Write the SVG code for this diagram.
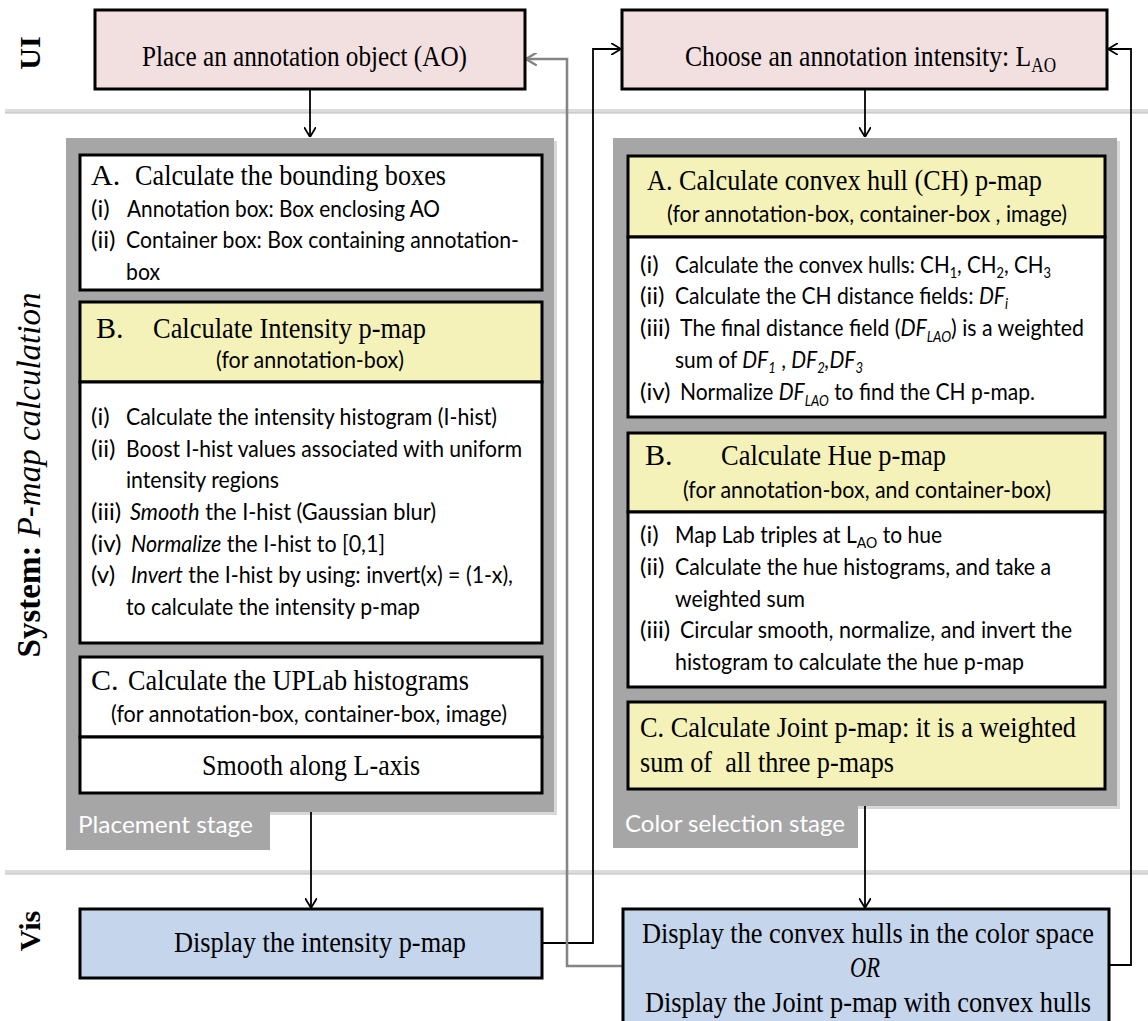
<svg xmlns="http://www.w3.org/2000/svg" width="1148" height="1021" viewBox="0 0 1148 1021">
  <style>
    .ser { font-family: "Liberation Serif", "Times New Roman", serif; font-size: 30px; fill: #000; }
    .san { font-family: Lato, "Open Sans", sans-serif; font-size: 24px; fill: #000; }
    .lbl { font-family: "Liberation Serif", "Times New Roman", serif; font-weight: bold; font-size: 30px; fill: #000; }
    .stage { font-family: Lato, "Open Sans", sans-serif; font-size: 24px; fill: #fff; }
    .it { font-style: italic; }
    .box { stroke: #000; stroke-width: 3; }
    .ui { fill: #f2dfe0; }
    .yel { fill: #f5f2b9; }
    .wht { fill: #ffffff; }
    .vis { fill: #c5d5eb; }
    .panel { fill: #a6a6a6; }
    .sep { fill: #dcdcdc; }
    .sepline { stroke: #bdbdbd; stroke-width: 1; }
    .conn { fill: none; stroke: #000; stroke-width: 1.8; }
    .conn-g { fill: none; stroke: #858585; stroke-width: 2.6; }
  </style>
  <defs>
    <marker id="arr" viewBox="0 0 10 12" refX="10" refY="6" markerWidth="10" markerHeight="12" markerUnits="userSpaceOnUse" orient="auto">
      <path d="M0,0 L10,6 L0,12" fill="none" stroke="#000" stroke-width="1.8"/>
    </marker>
    <marker id="arr-g" viewBox="0 0 10 12" refX="10" refY="6" markerWidth="11" markerHeight="13" markerUnits="userSpaceOnUse" orient="auto">
      <path d="M0,0 L10,6 L0,12" fill="none" stroke="#858585" stroke-width="2.2"/>
    </marker>
  </defs>

  <rect width="1148" height="1021" fill="#fff"/>

  <!-- lane separators and lane titles -->
  <g id="lanes">
    <rect class="sep" x="5" y="109" width="1143" height="4"/>
    <line class="sepline" x1="5" y1="113" x2="1148" y2="113"/>
    <rect class="sep" x="5" y="870" width="1143" height="4"/>
    <line class="sepline" x1="5" y1="874" x2="1148" y2="874"/>
    <text class="lbl" transform="translate(40,53) rotate(-90)" text-anchor="middle">UI</text>
    <text class="lbl" transform="translate(40,475) rotate(-90)" text-anchor="middle" style="font-size:33px">System: <tspan class="it" style="font-weight:normal">P-map calculation</tspan></text>
    <text class="lbl" transform="translate(40,931) rotate(-90)" text-anchor="middle">Vis</text>
  </g>

  <!-- stage panels -->
  <g id="placement-stage">
    <rect x="69" y="141" width="488" height="674" fill="#d8d8d8"/>
    <rect class="panel" x="66" y="138" width="488" height="674"/>
    <rect class="panel" x="66" y="812" width="204" height="38"/>
    <text class="stage" x="78" y="833" textLength="175" lengthAdjust="spacingAndGlyphs">Placement stage</text>
  </g>
  <g id="color-selection-stage">
    <rect x="616" y="141" width="504" height="668" fill="#d8d8d8"/>
    <rect class="panel" x="613" y="138" width="504" height="668"/>
    <rect class="panel" x="613" y="806" width="245" height="42"/>
    <text class="stage" x="625" y="832" textLength="220" lengthAdjust="spacingAndGlyphs">Color selection stage</text>
  </g>

  <!-- connectors -->
  <g id="connectors">
    <path class="conn" d="M310,89 V137" marker-end="url(#arr)"/>
    <path class="conn" d="M865,89 V137" marker-end="url(#arr)"/>
    <path class="conn" d="M311,812 V908" marker-end="url(#arr)"/>
    <path class="conn" d="M865,806 V908" marker-end="url(#arr)"/>
    <path class="conn" d="M542,943 H593 V49 H621" marker-end="url(#arr)"/>
    <path class="conn" d="M1109,965 H1131 V49 H1108" marker-end="url(#arr)"/>
    <path class="conn-g" d="M623,966 H567 V59 H526" marker-end="url(#arr-g)"/>
  </g>

  <!-- UI lane -->
  <g id="place-ao">
    <rect class="box ui" x="95" y="10" width="430" height="79"/>
    <text class="ser" x="142" y="66" textLength="325" lengthAdjust="spacingAndGlyphs">Place an annotation object (AO)</text>
  </g>
  <g id="choose-intensity">
    <rect class="box ui" x="622" y="10" width="485" height="79"/>
    <text class="ser" x="685" y="66" textLength="371" lengthAdjust="spacingAndGlyphs">Choose an annotation intensity: L<tspan dy="6" style="font-size:20px">AO</tspan></text>
  </g>

  <!-- placement stage steps -->
  <g id="bounding-boxes">
    <rect class="box wht" x="80" y="155" width="462" height="135"/>
    <text class="ser" x="91" y="185">A.</text>
    <text class="ser" x="135" y="185" textLength="311" lengthAdjust="spacingAndGlyphs">Calculate the bounding boxes</text>
    <text class="san" x="91" y="217">(i)</text>
    <text class="san" x="127" y="217" textLength="313" lengthAdjust="spacingAndGlyphs">Annotation box: Box enclosing AO</text>
    <text class="san" x="91" y="248">(ii)</text>
    <text class="san" x="126" y="248" textLength="393" lengthAdjust="spacingAndGlyphs">Container box: Box containing annotation-</text>
    <text class="san" x="126" y="280" textLength="34" lengthAdjust="spacingAndGlyphs">box</text>
  </g>
  <g id="intensity-pmap">
    <rect class="box yel" x="80" y="302" width="462" height="80"/>
    <rect class="box wht" x="80" y="382" width="462" height="261"/>
    <text class="ser" x="96" y="338">B.</text>
    <text class="ser" x="153" y="338" textLength="273" lengthAdjust="spacingAndGlyphs">Calculate Intensity p-map</text>
    <text class="san" x="216" y="368" textLength="188" lengthAdjust="spacingAndGlyphs">(for annotation-box)</text>
    <text class="san" x="91" y="425">(i)</text>
    <text class="san" x="126" y="425" textLength="371" lengthAdjust="spacingAndGlyphs">Calculate the intensity histogram (I-hist)</text>
    <text class="san" x="91" y="457">(ii)</text>
    <text class="san" x="126" y="457" textLength="396" lengthAdjust="spacingAndGlyphs">Boost I-hist values associated with uniform</text>
    <text class="san" x="126" y="488" textLength="153" lengthAdjust="spacingAndGlyphs">intensity regions</text>
    <text class="san" x="91" y="520">(iii)</text>
    <text class="san" x="130" y="520" textLength="306" lengthAdjust="spacingAndGlyphs"><tspan class="it">Smooth</tspan> the I-hist (Gaussian blur)</text>
    <text class="san" x="91" y="552">(iv)</text>
    <text class="san" x="131" y="552" textLength="254" lengthAdjust="spacingAndGlyphs"><tspan class="it">Normalize</tspan> the I-hist to [0,1]</text>
    <text class="san" x="91" y="583">(v)</text>
    <text class="san" x="131" y="583" textLength="382" lengthAdjust="spacingAndGlyphs"><tspan class="it">Invert</tspan> the I-hist by using: invert(x) = (1-x),</text>
    <text class="san" x="126" y="615" textLength="294" lengthAdjust="spacingAndGlyphs">to calculate the intensity p-map</text>
  </g>
  <g id="uplab-histograms">
    <rect class="box wht" x="80" y="657" width="462" height="80"/>
    <rect class="box wht" x="80" y="737" width="462" height="56"/>
    <text class="ser" x="91" y="690">C.</text>
    <text class="ser" x="128" y="690" textLength="341" lengthAdjust="spacingAndGlyphs">Calculate the UPLab histograms</text>
    <text class="san" x="111" y="722" textLength="396" lengthAdjust="spacingAndGlyphs">(for annotation-box, container-box, image)</text>
    <text class="ser" x="202" y="775" textLength="218" lengthAdjust="spacingAndGlyphs">Smooth along L-axis</text>
  </g>

  <!-- color selection stage steps -->
  <g id="convex-hull-pmap">
    <rect class="box yel" x="628" y="156" width="477" height="81"/>
    <rect class="box wht" x="628" y="237" width="477" height="180"/>
    <text class="ser" x="647" y="190" textLength="395" lengthAdjust="spacingAndGlyphs">A. Calculate convex hull (CH) p-map</text>
    <text class="san" x="667" y="222" textLength="400" lengthAdjust="spacingAndGlyphs">(for annotation-box, container-box , image)</text>
    <text class="san" x="640" y="273">(i)</text>
    <text class="san" x="675" y="273" textLength="376" lengthAdjust="spacingAndGlyphs">Calculate the convex hulls: CH<tspan dy="5" style="font-size:15px">1</tspan><tspan dy="-5">, CH</tspan><tspan dy="5" style="font-size:15px">2</tspan><tspan dy="-5">, CH</tspan><tspan dy="5" style="font-size:15px">3</tspan></text>
    <text class="san" x="640" y="304">(ii)</text>
    <text class="san" x="675" y="304" textLength="333" lengthAdjust="spacingAndGlyphs">Calculate the CH distance fields: <tspan class="it">DF</tspan><tspan class="it" dy="5" style="font-size:15px">i</tspan></text>
    <text class="san" x="640" y="336">(iii)</text>
    <text class="san" x="680" y="336" textLength="404" lengthAdjust="spacingAndGlyphs">The final distance field (<tspan class="it">DF</tspan><tspan class="it" dy="6" style="font-size:15px">LAO</tspan><tspan dy="-6">) is a weighted</tspan></text>
    <text class="san" x="675" y="368" textLength="188" lengthAdjust="spacingAndGlyphs">sum of <tspan class="it">DF</tspan><tspan class="it" dy="5" style="font-size:15px">1</tspan><tspan dy="-5"> , </tspan><tspan class="it">DF</tspan><tspan class="it" dy="5" style="font-size:15px">2</tspan><tspan class="it" dy="-5">,DF</tspan><tspan class="it" dy="5" style="font-size:15px">3</tspan></text>
    <text class="san" x="640" y="400">(iv)</text>
    <text class="san" x="680" y="400" textLength="355" lengthAdjust="spacingAndGlyphs">Normalize <tspan class="it">DF</tspan><tspan class="it" dy="6" style="font-size:15px">LAO</tspan><tspan dy="-6"> to find the CH p-map.</tspan></text>
  </g>
  <g id="hue-pmap">
    <rect class="box yel" x="628" y="433" width="477" height="79"/>
    <rect class="box wht" x="628" y="512" width="477" height="175"/>
    <text class="ser" x="645" y="465">B.</text>
    <text class="ser" x="721" y="465" textLength="225" lengthAdjust="spacingAndGlyphs">Calculate Hue p-map</text>
    <text class="san" x="683" y="498" textLength="368" lengthAdjust="spacingAndGlyphs">(for annotation-box, and container-box)</text>
    <text class="san" x="640" y="543">(i)</text>
    <text class="san" x="675" y="543" textLength="267" lengthAdjust="spacingAndGlyphs">Map Lab triples at L<tspan dy="5" style="font-size:16px">AO</tspan><tspan dy="-5"> to hue</tspan></text>
    <text class="san" x="640" y="575">(ii)</text>
    <text class="san" x="675" y="575" textLength="376" lengthAdjust="spacingAndGlyphs">Calculate the hue histograms, and take a</text>
    <text class="san" x="675" y="607" textLength="130" lengthAdjust="spacingAndGlyphs">weighted sum</text>
    <text class="san" x="640" y="638">(iii)</text>
    <text class="san" x="680" y="638" textLength="392" lengthAdjust="spacingAndGlyphs">Circular smooth, normalize, and invert the</text>
    <text class="san" x="675" y="670" textLength="349" lengthAdjust="spacingAndGlyphs">histogram to calculate the hue p-map</text>
  </g>
  <g id="joint-pmap">
    <rect class="box yel" x="628" y="702" width="477" height="87"/>
    <text class="ser" x="640" y="737" textLength="436" lengthAdjust="spacingAndGlyphs">C. Calculate Joint p-map: it is a weighted</text>
    <text class="ser" x="640" y="772" textLength="254" lengthAdjust="spacingAndGlyphs" xml:space="preserve">sum of  all three p-maps</text>
  </g>

  <!-- Vis lane -->
  <g id="display-intensity">
    <rect class="box vis" x="80" y="909" width="462" height="69"/>
    <text class="ser" x="174" y="952" textLength="292" lengthAdjust="spacingAndGlyphs">Display the intensity p-map</text>
  </g>
  <g id="display-hulls">
    <rect class="box vis" x="623" y="909" width="486" height="130"/>
    <text class="ser" x="642" y="943" textLength="452" lengthAdjust="spacingAndGlyphs">Display the convex hulls in the color space</text>
    <text class="ser it" x="850" y="977" textLength="30" lengthAdjust="spacingAndGlyphs">OR</text>
    <text class="ser" x="645" y="1012" textLength="446" lengthAdjust="spacingAndGlyphs">Display the Joint p-map with convex hulls</text>
  </g>
</svg>
